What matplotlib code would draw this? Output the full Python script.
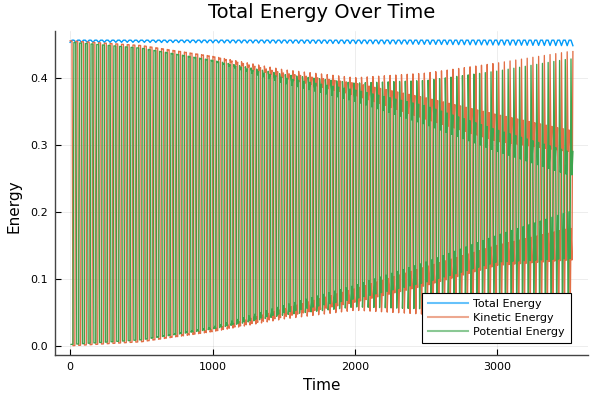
import numpy as np
import matplotlib
matplotlib.use("Agg")
import matplotlib.pyplot as plt

# ---- data ----
t_end = 3530          # last time value
n_cycles = 88         # visible oscillations over the run

# envelope key times
t_keys = [0, 500, 1000, 1500, 2000, 2500, 3000, 3500]

# kinetic energy: outer envelopes and the inner dense bands (lo/hi edges)
ke_top   = [0.455, 0.448, 0.432, 0.412, 0.400, 0.407, 0.422, 0.439]
ke_bot   = [0.000, 0.006, 0.021, 0.040, 0.053, 0.047, 0.032, 0.016]
ke_ub_hi = [0.455, 0.448, 0.432, 0.407, 0.392, 0.370, 0.345, 0.322]
ke_ub_lo = [0.455, 0.448, 0.431, 0.400, 0.374, 0.338, 0.305, 0.290]
ke_lb_lo = [0.000, 0.006, 0.021, 0.043, 0.065, 0.090, 0.120, 0.128]
ke_lb_hi = [0.000, 0.006, 0.024, 0.055, 0.085, 0.118, 0.150, 0.175]

# potential energy
pe_top   = [0.453, 0.444, 0.426, 0.405, 0.392, 0.396, 0.410, 0.428]
pe_bot   = [0.002, 0.009, 0.025, 0.046, 0.058, 0.055, 0.042, 0.025]
pe_ub_hi = [0.453, 0.444, 0.426, 0.400, 0.382, 0.358, 0.322, 0.290]
pe_ub_lo = [0.453, 0.444, 0.425, 0.392, 0.365, 0.330, 0.290, 0.255]
pe_lb_lo = [0.002, 0.009, 0.025, 0.049, 0.070, 0.095, 0.125, 0.130]
pe_lb_hi = [0.002, 0.009, 0.028, 0.060, 0.090, 0.125, 0.165, 0.200]

# total energy
tot_hi = [0.4560, 0.4560, 0.4560, 0.4560, 0.4560, 0.4560, 0.4560, 0.4560]
tot_lo = [0.4528, 0.4528, 0.4520, 0.4515, 0.4508, 0.4498, 0.4488, 0.4478]

x_ticks = [0, 1000, 2000, 3000]
y_ticks = [0.0, 0.1, 0.2, 0.3, 0.4]
labels = ["Total Energy", "Kinetic Energy", "Potential Energy"]
colors = ["#009af9", "#e26f46", "#3da44d"]


def build(tracks, shift=0.0):
    """Cycle through the envelope tracks, one sample per track per oscillation."""
    k = len(tracks)
    period = t_end / n_cycles
    n = n_cycles * k + 1
    t = (np.arange(n) + shift) * period / k
    t = t[t <= t_end]
    vals = np.array([np.interp(t[i], t_keys, tracks[i % k]) for i in range(len(t))])
    return t, vals


t_tot, e_tot = build([tot_lo, tot_hi, tot_hi])
t_ke, e_ke = build([ke_top, ke_ub_lo, ke_ub_hi, ke_bot, ke_lb_hi, ke_lb_lo])
t_pe, e_pe = build([pe_bot, pe_lb_hi, pe_lb_lo, pe_top, pe_ub_lo, pe_ub_hi], shift=1.0)

fig = plt.figure(figsize=(6, 4), dpi=100)
ax = fig.add_axes([55 / 600, 45 / 400, 533 / 600, 324 / 400])

ax.plot(t_tot, e_tot, color=colors[0], lw=1.0, label=labels[0])
ax.plot(t_ke, e_ke, color=colors[1], lw=0.95, label=labels[1])
ax.plot(t_pe, e_pe, color=colors[2], lw=0.95, label=labels[2])

ax.set_xlim(-106, 3636)
ax.set_ylim(-0.0137, 0.4697)
ax.set_xticks(x_ticks)
ax.set_yticks(y_ticks)
ax.set_xticklabels([str(v) for v in x_ticks])
ax.set_yticklabels([f"{v:.1f}" for v in y_ticks])
ax.grid(True, color="black", alpha=0.1, lw=0.5)
ax.set_axisbelow(True)
for s in ["top", "right"]:
    ax.spines[s].set_visible(False)
for s in ["left", "bottom"]:
    ax.spines[s].set_color("#444444")
    ax.spines[s].set_linewidth(1.0)
ax.tick_params(direction="in", length=4, width=0.8, labelsize=8, pad=5)

ax.set_title("Total Energy Over Time", fontsize=14, pad=9)
ax.set_xlabel("Time", fontsize=11, labelpad=4)
ax.set_ylabel("Energy", fontsize=11)
ax.yaxis.set_label_coords(-0.062, 0.46)

leg = ax.legend(loc="lower right", bbox_to_anchor=(0.968, 0.037), fontsize=8,
                fancybox=False, framealpha=1, edgecolor="black",
                borderaxespad=0, handlelength=3.6, labelspacing=0.35,
                borderpad=0.55, handletextpad=0.5)
leg.get_frame().set_linewidth(0.8)
for h in leg.get_lines():
    h.set_linewidth(1.5)
    h.set_alpha(0.6)

fig.savefig("out.png", dpi=100)
